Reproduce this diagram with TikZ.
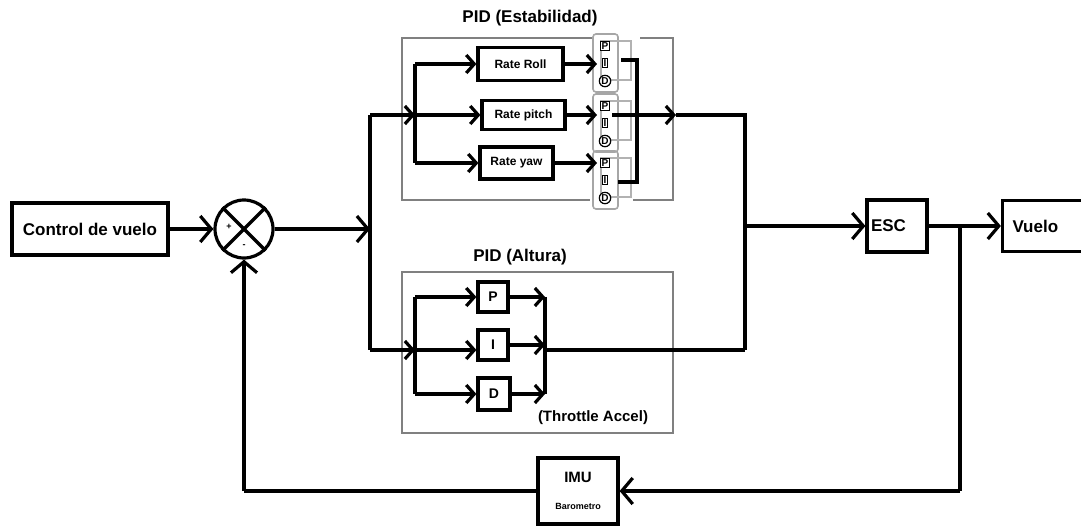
\documentclass[tikz,border=0pt]{standalone}
\usepackage{fontspec}
\setmainfont{Liberation Sans}
\usetikzlibrary{arrows.meta}
\begin{document}
\begin{tikzpicture}[x=1pt,y=-1pt,
  ln/.style={line width=3.2pt},
  bx/.style={draw, line width=3.2pt, rectangle, inner sep=0pt, fill=white, font=\bfseries\fontsize{17}{17}\selectfont},
  rbx/.style={bx, font=\bfseries\fontsize{12}{12}\selectfont},
  pbx/.style={bx, font=\bfseries\fontsize{14}{14}\selectfont, minimum width=30pt, minimum height=30pt},
  arr/.style={ln, -{Straight Barb[length=11pt,width=26pt]}},
  sarr/.style={ln, -{Straight Barb[length=8pt,width=18pt]}},
  frame/.style={draw=gray, line width=2.5pt},
  ttl/.style={font=\bfseries\fontsize{17}{17}\selectfont},
  glyph/.style={font=\bfseries\fontsize{10}{10}\selectfont, inner sep=0.8pt, draw, line width=1.2pt, fill=white},
]
\fill[white] (0,0) rectangle (1081,531);
\useasboundingbox (0,0) rectangle (1081,531);

% titles
\node[ttl] (t1) at (530,18) {PID (Estabilidad)};
\node[ttl] (t2) at (520,257) {PID (Altura)};
\node[font=\bfseries\fontsize{15}{15}\selectfont] (t3) at (593,418) {(Throttle Accel)};

% frames
\draw[frame] (592,38) -- (402,38) -- (402,200) -- (590,200);
\draw[frame] (640,38) -- (673,38) -- (673,200) -- (633,200);
\draw[frame] (402,272) rectangle (673,433);

% main blocks
\node[bx, minimum width=156pt, minimum height=52pt] (ctrl) at (90,229) {Control de vuelo};
\node[draw, circle, line width=3.2pt, minimum size=58pt, inner sep=0pt] (sum) at (244,229) {};
\draw[ln] (sum.north west) -- (sum.south east);
\draw[ln] (sum.north east) -- (sum.south west);
\node[font=\bfseries\fontsize{9}{9}\selectfont] (plus) at (229,227) {+};
\node[font=\bfseries\fontsize{9}{9}\selectfont] (minus) at (244,246) {-};

\node[bx, text width=52pt, align=left, inner xsep=4pt, minimum height=52pt] (esc) at (897,226) {ESC};
\node[bx, text width=75pt, align=left, inner xsep=10pt, minimum height=51pt] (vuelo) at (1050,226) {Vuelo};
\node[bx, minimum width=80pt, minimum height=66pt, align=center] (imu) at (578,491)
  {\fontsize{15}{15}\selectfont IMU\\[10pt]\fontsize{9}{9}\selectfont Barometro};

% rate boxes
\node[rbx, minimum width=85pt, minimum height=33pt] (roll) at (520.5,64) {Rate Roll};
\node[rbx, minimum width=83pt, minimum height=29pt] (pitch) at (523.5,115) {Rate pitch};
\node[rbx, minimum width=73pt, minimum height=32pt] (yaw) at (516.5,163) {Rate yaw};

% PID altura boxes
\node[pbx] (P) at (493,297) {P};
\node[pbx] (I) at (493,345) {I};
\node[pbx, minimum width=32pt, minimum height=32pt] (D) at (494,394) {D};

% small PID glyph groups
\foreach \k/\yy in {1/34,2/94,3/151}{
  \draw[draw=gray!70, line width=1.6pt, rounded corners=3pt] (593,\yy) rectangle (618,\yy+58);
  \draw[draw=gray!60, line width=1.3pt] (601,\yy+7) rectangle (631,\yy+46);
  \node[glyph] (gp\k) at (605,\yy+12) {P};
  \node[glyph] (gi\k) at (605,\yy+29) {I};
  \node[glyph, circle, inner sep=0.5pt] (gd\k) at (605,\yy+47) {D};
}

% coordinates
\coordinate (jA) at (370,229);
\coordinate (jT) at (370,115);
\coordinate (jB) at (370,350);
\coordinate (sIn) at (415,115);
\coordinate (sT) at (415,64);
\coordinate (sB) at (415,163);
\coordinate (aIn) at (415,350);
\coordinate (aT) at (415,297);
\coordinate (aB) at (415,394);
\coordinate (gx) at (597,0);
\coordinate (g1o) at (621,60);
\coordinate (g2o) at (612,115);
\coordinate (g3o) at (618,182);
\coordinate (colT) at (637,60);
\coordinate (colM) at (637,115);
\coordinate (colB) at (637,182);
\coordinate (sTip) at (676,115);
\coordinate (r1) at (745,115);
\coordinate (r2) at (745,350);
\coordinate (rE) at (745,226);
\coordinate (cx) at (545,0);
\coordinate (cT) at (545,297);
\coordinate (cM) at (545,350);
\coordinate (cB) at (545,394);
\coordinate (fb1) at (960,226);
\coordinate (fb2) at (960,491);
\coordinate (fb3) at (244,491);

% main connectors
\draw[arr] (ctrl.east) -- (sum.west);
\draw[arr] (sum.east) -- (jA);
\draw[ln] (jT) -- (jB);

% stability branch
\draw[sarr] (jT) -- (sIn);
\draw[ln] (sT) -- (sB);
\draw[sarr] (sT) -- (roll.west);
\draw[sarr] (sIn) -- (pitch.west);
\draw[sarr] (sB) -- (yaw.west);
\draw[sarr] (roll.east) -- (roll.east -| gx);
\draw[sarr] (pitch.east) -- (pitch.east -| gx);
\draw[sarr] (yaw.east) -- (yaw.east -| gx);
\draw[ln] (g1o) -- (colT) -- (colB) -- (g3o);
\draw[ln] (g2o) -- (colM);
\draw[sarr] (colM) -- (sTip);
\draw[ln] (sTip) -- (r1) -- (r2);

% altura branch
\draw[sarr] (jB) -- (aIn);
\draw[ln] (aT) -- (aB);
\draw[sarr] (aT) -- (P.west);
\draw[sarr] (aIn) -- (I.west |- aIn);
\draw[sarr] (aB) -- (D.west);
\draw[sarr] (P.east) -- (P.east -| cx);
\draw[sarr] (I.east) -- (I.east -| cx);
\draw[sarr] (D.east) -- (D.east -| cx);
\draw[ln] (cT) -- (cB);
\draw[ln] (cM) -- (r2);

% output and feedback
\draw[arr] (rE) -- (esc.west);
\draw[arr] (esc.east) -- (vuelo.west);
\draw[ln] (fb1) -- (fb2);
\draw[arr] (fb2) -- (imu.east);
\draw[ln] (imu.west) -- (fb3);
\draw[arr] (fb3) -- (sum.south);
\end{tikzpicture}
\end{document}
